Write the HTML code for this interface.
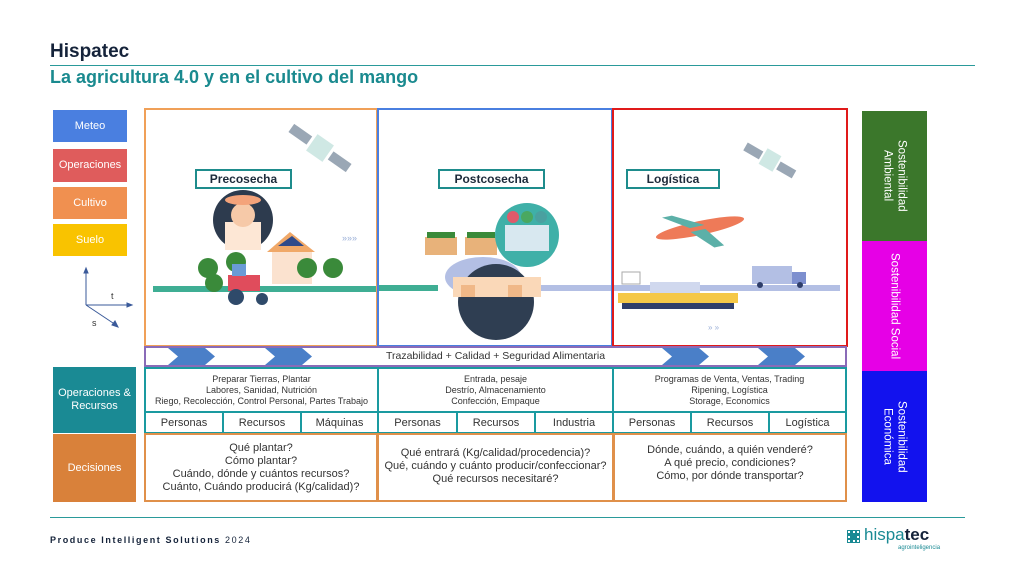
<!DOCTYPE html>
<html><head><meta charset="utf-8"><style>
*{margin:0;padding:0;box-sizing:border-box}
body{width:1024px;height:576px;background:#fff;position:relative;overflow:hidden;font-family:"Liberation Sans",sans-serif;color:#333}
.a{position:absolute}
.lb{position:absolute;color:#fff;font-size:11px;display:flex;align-items:center;justify-content:center;text-align:center;line-height:13px}
.c{position:absolute;display:flex;align-items:center;justify-content:center;text-align:center;font-size:9.5px;line-height:11px;color:#333}
.v{position:absolute;color:#fff;font-size:11.5px;writing-mode:vertical-rl;display:flex;align-items:center;justify-content:center;text-align:center;line-height:14px}
.tag{position:absolute;border:2px solid #1e8c8c;background:#fff;font-weight:bold;font-size:12px;color:#1d2a3a;display:flex;align-items:center;justify-content:center}
</style></head><body>
<div class="a" style="left:50px;top:41px;font-size:19px;font-weight:bold;color:#15233a">Hispatec</div>
<div class="a" style="left:50px;top:65px;width:925px;height:1px;background:#2a9a9a"></div>
<div class="a" style="left:50px;top:67px;font-size:18px;font-weight:bold;color:#1a8a8f">La agricultura 4.0 y en el cultivo del mango</div>

<div class="lb" style="left:53px;top:110px;width:74px;height:32px;background:#4a7fe0">Meteo</div>
<div class="lb" style="left:53px;top:149px;width:74px;height:33px;background:#df5c5c">Operaciones</div>
<div class="lb" style="left:53px;top:187px;width:74px;height:32px;background:#f09050">Cultivo</div>
<div class="lb" style="left:53px;top:224px;width:74px;height:32px;background:#f9c300">Suelo</div>

<svg class="a" style="left:0;top:0" width="1024" height="576">
<g stroke="#3a5a9a" stroke-width="1" fill="#3a5a9a">
<line x1="86" y1="305" x2="86" y2="270"/><polygon points="86,268 84,273 88,273"/>
<line x1="86" y1="305" x2="130" y2="305"/><polygon points="132,305 127,303 127,307"/>
<line x1="86" y1="305" x2="116" y2="325"/><polygon points="118,327 112,325 115,321"/>
</g>
<text x="111" y="299" font-size="9" fill="#333" font-family="Liberation Sans">t</text>
<text x="92" y="326" font-size="9" fill="#333" font-family="Liberation Sans">s</text>
<rect x="153" y="286" width="225" height="6" fill="#3fae94"/>
<rect x="378" y="285" width="60" height="6" fill="#3fae94"/>
<rect x="540" y="285" width="300" height="6" fill="#b3bfe4"/>
<circle cx="243" cy="220" r="30" fill="#2d3b4e"/>
<rect x="225" y="222" width="36" height="28" fill="#fde7d5"/>
<circle cx="243" cy="215" r="12" fill="#f6c9a8"/>
<ellipse cx="243" cy="200" rx="18" ry="5" fill="#f4a37a"/>
<rect x="272" y="250" width="40" height="34" fill="#fbe2cf"/>
<polygon points="267,252 290,232 315,252" fill="#f0a868"/>
<polygon points="278,246 292,236 304,246" fill="#2f4a8a"/>
<g fill="#3a8a3a"><circle cx="208" cy="268" r="10"/><circle cx="236" cy="262" r="10"/><circle cx="214" cy="283" r="9"/><circle cx="307" cy="268" r="10"/><circle cx="333" cy="268" r="10"/></g>
<rect x="228" y="275" width="32" height="16" fill="#e04c5c"/><rect x="232" y="264" width="14" height="12" fill="#6a9bd6"/>
<circle cx="236" cy="297" r="8" fill="#2f4a6a"/><circle cx="262" cy="299" r="6" fill="#2f4a6a"/>
<g transform="translate(320,148) rotate(35)"><rect x="-35" y="-5" width="22" height="10" fill="#9aa7b5"/><rect x="13" y="-5" width="22" height="10" fill="#9aa7b5"/><rect x="-10" y="-10" width="20" height="20" fill="#cfe8e4"/></g>
<text x="342" y="241" font-size="9" fill="#9bb0d8">»»»</text>
<ellipse cx="483" cy="277" rx="38" ry="20" fill="#b3bfe4"/>
<rect x="425" y="237" width="32" height="18" fill="#e8b27a"/><rect x="465" y="237" width="32" height="18" fill="#e8b27a"/>
<rect x="427" y="232" width="28" height="6" fill="#3a8a3a"/><rect x="467" y="232" width="28" height="6" fill="#3a8a3a"/>
<circle cx="527" cy="235" r="32" fill="#3fb0a8"/><rect x="505" y="225" width="44" height="26" fill="#d8e8f0"/>
<circle cx="513" cy="217" r="6" fill="#e05a6a"/><circle cx="527" cy="217" r="6" fill="#4aa860"/><circle cx="541" cy="217" r="6" fill="#4aa0a0"/>
<circle cx="496" cy="302" r="38" fill="#2f3e52"/>
<rect x="453" y="277" width="88" height="20" fill="#fad8b8"/>
<rect x="461" y="285" width="14" height="12" fill="#f0b888"/><rect x="508" y="285" width="14" height="12" fill="#f0b888"/>
<g transform="translate(770,160) rotate(30)"><rect x="-28" y="-4" width="18" height="9" fill="#9aa7b5"/><rect x="10" y="-4" width="18" height="9" fill="#9aa7b5"/><rect x="-8" y="-9" width="16" height="18" fill="#cfe8e4"/></g>
<g transform="translate(700,228) rotate(-12)"><ellipse cx="0" cy="0" rx="45" ry="7" fill="#ee7a58"/><polygon points="-10,-2 -35,-18 -25,-18 5,-2" fill="#5cb0a8"/><polygon points="-10,2 10,22 20,22 5,2" fill="#5cb0a8"/></g>
<rect x="622" y="272" width="18" height="12" fill="#fff" stroke="#aaa"/>
<rect x="618" y="293" width="120" height="10" fill="#f5c848"/>
<rect x="622" y="303" width="112" height="6" fill="#2f3e6a"/>
<rect x="650" y="282" width="50" height="11" fill="#d0d8ee"/>
<rect x="752" y="266" width="40" height="18" fill="#b3bfe4"/><rect x="792" y="272" width="14" height="12" fill="#7d8fcf"/>
<circle cx="760" cy="285" r="3" fill="#2f3e6a"/><circle cx="800" cy="285" r="3" fill="#2f3e6a"/>
<text x="708" y="330" font-size="8" fill="#9bb0d8">» »</text>
</svg>

<div class="tag" style="left:195px;top:169px;width:97px;height:20px">Precosecha</div>
<div class="tag" style="left:438px;top:169px;width:107px;height:20px">Postcosecha</div>
<div class="tag" style="left:626px;top:169px;width:94px;height:20px">Logística</div>

<div class="a" style="left:144px;top:108px;width:234px;height:239px;border:2px solid #f0a058"></div>
<div class="a" style="left:377px;top:108px;width:236px;height:239px;border:2px solid #4a7fe0"></div>
<div class="a" style="left:612px;top:108px;width:236px;height:239px;border:2px solid #e01a1a"></div>

<div class="a" style="left:144px;top:346px;width:703px;height:21px;border:2px solid #8a6bb8"></div>
<svg class="a" style="left:0;top:0" width="1024" height="576">
<g fill="#4a7fc8">
<polygon points="168,348 205,348 215,356.5 205,365 168,365 178,356.5"/>
<polygon points="265,348 302,348 312,356.5 302,365 265,365 275,356.5"/>
<polygon points="662,348 699,348 709,356.5 699,365 662,365 672,356.5"/>
<polygon points="758,348 795,348 805,356.5 795,365 758,365 768,356.5"/>
</g></svg>
<div class="c" style="left:146px;top:348px;width:699px;height:17px;font-size:10.5px">Trazabilidad + Calidad + Seguridad Alimentaria</div>

<div class="lb" style="left:53px;top:367px;width:83px;height:66px;background:#1a8a94">Operaciones &amp;<br>Recursos</div>
<div class="lb" style="left:53px;top:434px;width:83px;height:68px;background:#d9813a">Decisiones</div>

<div class="a" style="left:144px;top:367px;width:703px;height:67px;border:2px solid #1a9aa0"></div>
<div class="a" style="left:377px;top:367px;width:2px;height:67px;background:#1a9aa0"></div>
<div class="a" style="left:612px;top:367px;width:2px;height:67px;background:#1a9aa0"></div>
<div class="a" style="left:144px;top:411px;width:703px;height:2px;background:#1a9aa0"></div>
<div class="a" style="left:222px;top:412px;width:2px;height:21px;background:#1a9aa0"></div>
<div class="a" style="left:300px;top:412px;width:2px;height:21px;background:#1a9aa0"></div>
<div class="a" style="left:456px;top:412px;width:2px;height:21px;background:#1a9aa0"></div>
<div class="a" style="left:534px;top:412px;width:2px;height:21px;background:#1a9aa0"></div>
<div class="a" style="left:690px;top:412px;width:2px;height:21px;background:#1a9aa0"></div>
<div class="a" style="left:768px;top:412px;width:2px;height:21px;background:#1a9aa0"></div>

<div class="c" style="left:146px;top:369px;width:231px;height:42px;font-size:9px">Preparar Tierras, Plantar<br>Labores, Sanidad, Nutrición<br>Riego, Recolección, Control Personal, Partes Trabajo</div>
<div class="c" style="left:379px;top:369px;width:233px;height:42px;font-size:9px">Entrada, pesaje<br>Destrío, Almacenamiento<br>Confección, Empaque</div>
<div class="c" style="left:614px;top:369px;width:231px;height:42px;font-size:9px">Programas de Venta, Ventas, Trading<br>Ripening, Logística<br>Storage, Economics</div>

<div class="c" style="left:146px;top:413px;width:76px;height:20px;font-size:11px">Personas</div>
<div class="c" style="left:224px;top:413px;width:76px;height:20px;font-size:11px">Recursos</div>
<div class="c" style="left:302px;top:413px;width:75px;height:20px;font-size:11px">Máquinas</div>
<div class="c" style="left:379px;top:413px;width:77px;height:20px;font-size:11px">Personas</div>
<div class="c" style="left:458px;top:413px;width:76px;height:20px;font-size:11px">Recursos</div>
<div class="c" style="left:536px;top:413px;width:76px;height:20px;font-size:11px">Industria</div>
<div class="c" style="left:614px;top:413px;width:76px;height:20px;font-size:11px">Personas</div>
<div class="c" style="left:692px;top:413px;width:76px;height:20px;font-size:11px">Recursos</div>
<div class="c" style="left:770px;top:413px;width:75px;height:20px;font-size:11px">Logística</div>

<div class="a" style="left:144px;top:433px;width:234px;height:69px;border:2px solid #e0904a"></div>
<div class="a" style="left:377px;top:433px;width:237px;height:69px;border:2px solid #e0904a"></div>
<div class="a" style="left:613px;top:433px;width:234px;height:69px;border:2px solid #e0904a"></div>
<div class="c" style="left:146px;top:436px;width:230px;height:64px;font-size:11px;line-height:13px">Qué plantar?<br>Cómo plantar?<br>Cuándo, dónde y cuántos recursos?<br>Cuánto, Cuándo producirá (Kg/calidad)?</div>
<div class="c" style="left:379px;top:436px;width:233px;height:60px;font-size:11px;line-height:13px">Qué entrará (Kg/calidad/procedencia)?<br>Qué, cuándo y cuánto producir/confeccionar?<br>Qué recursos necesitaré?</div>
<div class="c" style="left:615px;top:436px;width:230px;height:55px;font-size:11px;line-height:13px">Dónde, cuándo, a quién venderé?<br>A qué precio, condiciones?<br>Cómo, por dónde transportar?</div>

<div class="v" style="left:862px;top:111px;width:65px;height:130px;background:#3b772b">Sostenibilidad<br>Ambiental</div>
<div class="v" style="left:862px;top:241px;width:65px;height:130px;background:#e600e6">Sostenibilidad Social</div>
<div class="v" style="left:862px;top:371px;width:65px;height:131px;background:#1212ee">Sostenibilidad<br>Económica</div>

<div class="a" style="left:50px;top:517px;width:915px;height:1px;background:#2a9a9a"></div>
<div class="a" style="left:50px;top:535px;font-size:9px;font-weight:bold;letter-spacing:1.6px;color:#15233a">Produce Intelligent Solutions <span style="font-weight:normal">2024</span></div>
<div class="a" style="left:848px;top:531px;width:11px;height:11px;background:#1a8a94;border:2px dotted #fff;outline:1px solid #1a8a94"></div>
<div class="a" style="left:864px;top:525px;font-size:17px;color:#1a8a94;line-height:20px">hispa<b style="color:#15233a">tec</b></div>
<div class="a" style="left:898px;top:545px;font-size:6px;color:#1a8a94">agrointeligencia</div>
</body></html>
